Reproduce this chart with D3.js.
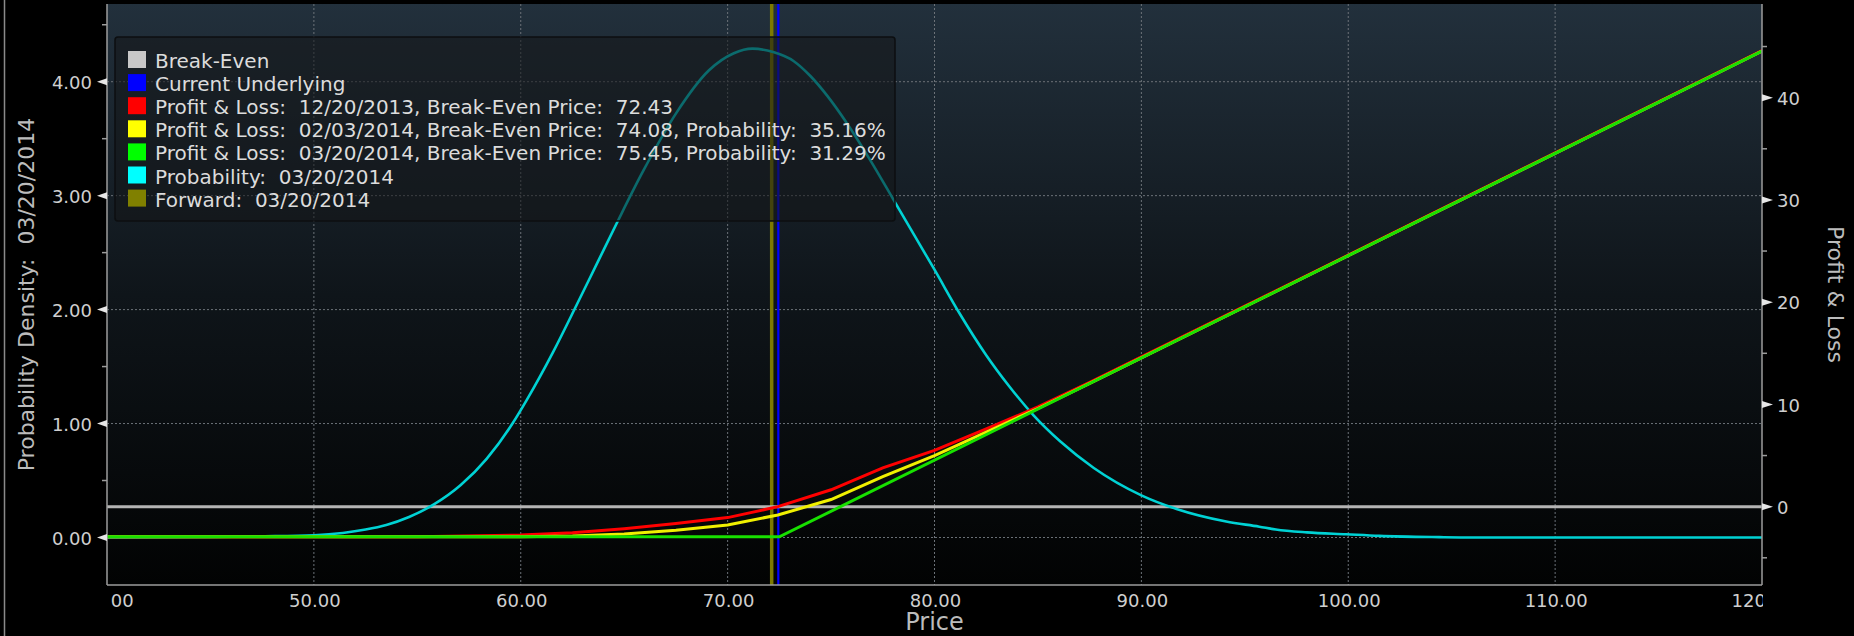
<!DOCTYPE html>
<html>
<head>
<meta charset="utf-8">
<script src="https://cdn.jsdelivr.net/npm/d3@7"></script>
<style>
  html, body { margin: 0; padding: 0; background: #000; }
  svg { display: block; font-family: "DejaVu Sans", sans-serif; }
  .grid line { stroke: #6c7278; stroke-width: 1; stroke-dasharray: 2,2; }
  .tick-label { fill: #cfcfcf; font-size: 18px; }
  .axis-title { fill: #bcbcbc; font-size: 22px; white-space: pre; }
  .legend text { fill: #dcdcdc; font-size: 20px; white-space: pre; }
</style>
</head>
<body>
<div id="chart"></div>
<script>
// ticks
var priceTicks = [40, 50, 60, 70, 80, 90, 100, 110, 120];
var densityTicks = [0, 1, 2, 3, 4];
var densityMinor = [0.5, 1.5, 2.5, 3.5, 4.5];
var pnlTicks = [0, 10, 20, 30, 40];
var pnlMinor = [-5, 5, 15, 25, 35, 45];

// probability density at expiry (03/20/2014)
var probPrice = [40, 45, 47.5, 50, 51.4, 52.5, 53.5, 54.6, 55.8, 57.1, 58.35, 59.6, 60.3, 61.6, 62.7, 63.7, 64.7, 65.9, 67.5, 69.1, 70.3, 71.2, 72.2, 73.2, 74.0, 74.8, 75.75, 76.9, 78.0, 79.0, 80.0, 81.2, 82.5, 83.6, 84.8, 86.1, 87.7, 90.0, 91.7, 94.1, 95.7, 96.5, 98.0, 99.9, 101.5, 104.4, 106, 120];
var probDensity = [0, 0.004, 0.01, 0.02, 0.04, 0.07, 0.11, 0.18, 0.29, 0.46, 0.69, 1.00, 1.21, 1.64, 2.04, 2.41, 2.78, 3.21, 3.72, 4.10, 4.25, 4.29, 4.26, 4.18, 4.05, 3.88, 3.64, 3.31, 2.97, 2.66, 2.35, 1.97, 1.60, 1.33, 1.07, 0.84, 0.61, 0.37, 0.25, 0.14, 0.095, 0.07, 0.045, 0.028, 0.014, 0.003, 0, 0];

// profit & loss
var pnlPrice = [40, 55, 60, 62.5, 65, 67.5, 70, 72.43, 75, 77.5, 80, 82.5, 85, 87.5, 90, 100, 110, 120];
var pnlDec2013 = [-2.95, -2.93, -2.78, -2.55, -2.15, -1.65, -1.07, 0.0, 1.65, 3.8, 5.5, 7.6, 9.75, 12.15, 14.65, 24.6, 34.6, 44.6];
var pnlFeb2014 = [-2.95, -2.95, -2.93, -2.87, -2.68, -2.3, -1.79, -0.81, 0.7, 2.95, 5.0, 7.3, 9.6, 12.05, 14.55, 24.55, 34.55, 44.55];
var expiryPrice = [40, 72.5, 120];
var pnlMar2014 = [-2.95, -2.95, 44.55];

var breakEven = 0;
var currentUnderlying = 72.45;
var forwardPrice = 72.13;

var legendLabels = [
    "Break-Even",
    "Current Underlying",
    "Profit & Loss:  12/20/2013, Break-Even Price:  72.43",
    "Profit & Loss:  02/03/2014, Break-Even Price:  74.08, Probability:  35.16%",
    "Profit & Loss:  03/20/2014, Break-Even Price:  75.45, Probability:  31.29%",
    "Probability:  03/20/2014",
    "Forward:  03/20/2014"
];
var legendColors = ["#c8c8c8", "#0000ff", "#ff0000", "#ffff00", "#00ff00", "#00ffff", "#808000"];

var W = 1854, H = 636;
var margin = { top: 4, right: 92, bottom: 51, left: 107 };
var width = W - margin.left - margin.right,
    height = H - margin.top - margin.bottom;

var svg = d3.select("#chart").append("svg")
    .attr("width", W)
    .attr("height", H);

var defs = svg.append("defs");
var grad = defs.append("linearGradient")
    .attr("id", "bg")
    .attr("x1", 0).attr("y1", 0).attr("x2", 0).attr("y2", 1);
grad.append("stop").attr("offset", "0%").attr("stop-color", "#22303c");
grad.append("stop").attr("offset", "50%").attr("stop-color", "#0f151a");
grad.append("stop").attr("offset", "100%").attr("stop-color", "#020303");

defs.append("clipPath").attr("id", "plot-clip")
    .append("rect").attr("width", width).attr("height", height);
defs.append("clipPath").attr("id", "xlabel-clip")
    .append("rect").attr("x", 4).attr("y", height).attr("width", width - 3).attr("height", margin.bottom);

// thin frame line at far left
svg.append("line")
    .attr("x1", 4.5).attr("x2", 4.5).attr("y1", 0).attr("y2", H)
    .attr("stroke", "#8a8a8a").attr("stroke-width", 1.5);

var g = svg.append("g")
    .attr("transform", "translate(" + margin.left + "," + margin.top + ")");

g.append("rect")
    .attr("width", width)
    .attr("height", height)
    .attr("fill", "url(#bg)");

// scales
var x = d3.scaleLinear().domain([40, 120]).range([0, width]);
var yL = d3.scaleLinear().domain([-0.417, 4.682]).range([height, 0]);
var yR = d3.scaleLinear().domain([-7.66, 49.16]).range([height, 0]);

// gridlines
var grid = g.append("g").attr("class", "grid");
grid.selectAll(".vx")
    .data(priceTicks.filter(function (d) { return d > 40 && d < 120; }))
    .enter().append("line")
    .attr("x1", function (d) { return x(d); })
    .attr("x2", function (d) { return x(d); })
    .attr("y1", 0).attr("y2", height);
grid.selectAll(".hy")
    .data(densityTicks)
    .enter().append("line")
    .attr("x1", 0).attr("x2", width)
    .attr("y1", function (d) { return yL(d); })
    .attr("y2", function (d) { return yL(d); });

var plot = g.append("g").attr("clip-path", "url(#plot-clip)");

// forward and current underlying
plot.append("line")
    .attr("x1", x(forwardPrice)).attr("x2", x(forwardPrice))
    .attr("y1", 0).attr("y2", height)
    .attr("stroke", "#7d7a00").attr("stroke-width", 3.5);
plot.append("line")
    .attr("x1", x(currentUnderlying)).attr("x2", x(currentUnderlying))
    .attr("y1", 0).attr("y2", height)
    .attr("stroke", "#0000ff").attr("stroke-width", 2.2);

// break-even
plot.append("line")
    .attr("x1", 0).attr("x2", width)
    .attr("y1", yR(breakEven)).attr("y2", yR(breakEven))
    .attr("stroke", "#b4b4b4").attr("stroke-width", 3);

// probability density
var probLine = d3.line()
    .x(function (d, i) { return x(probPrice[i]); })
    .y(function (d) { return yL(d); })
    .curve(d3.curveMonotoneX);
plot.append("path")
    .datum(probDensity)
    .attr("fill", "none")
    .attr("stroke", "#00d2d4")
    .attr("stroke-width", 2.6)
    .attr("d", probLine);

// profit & loss lines
function pnlLine(prices) {
    return d3.line()
        .x(function (d, i) { return x(prices[i]); })
        .y(function (d) { return yR(d); });
}
plot.append("path").datum(pnlDec2013)
    .attr("fill", "none").attr("stroke", "#ff0000").attr("stroke-width", 3)
    .attr("d", pnlLine(pnlPrice));
plot.append("path").datum(pnlFeb2014)
    .attr("fill", "none").attr("stroke", "#f0f000").attr("stroke-width", 3)
    .attr("d", pnlLine(pnlPrice));
plot.append("path").datum(pnlMar2014)
    .attr("fill", "none").attr("stroke", "#18e000").attr("stroke-width", 3)
    .attr("d", pnlLine(expiryPrice));

// axis lines
var axisColor = "#9c9c9c";
g.append("line").attr("x1", 0).attr("x2", 0).attr("y1", 0).attr("y2", height)
    .attr("stroke", axisColor).attr("stroke-width", 1.5);
g.append("line").attr("x1", width).attr("x2", width).attr("y1", 0).attr("y2", height)
    .attr("stroke", axisColor).attr("stroke-width", 1.5);
g.append("line").attr("x1", 0).attr("x2", width).attr("y1", height).attr("y2", height)
    .attr("stroke", axisColor).attr("stroke-width", 1.5);

// left axis ticks
g.selectAll(".lt").data(densityTicks).enter().append("path")
    .attr("fill", "#e6e6e6")
    .attr("d", function (d) { var y = yL(d); return "M0," + (y - 3.5) + "L-10," + y + "L0," + (y + 3.5) + "Z"; });
g.selectAll(".lm").data(densityMinor).enter().append("line")
    .attr("x1", -5).attr("x2", 0)
    .attr("y1", function (d) { return yL(d); })
    .attr("y2", function (d) { return yL(d); })
    .attr("stroke", axisColor).attr("stroke-width", 1.5);
g.selectAll(".ll").data(densityTicks).enter().append("text")
    .attr("class", "tick-label")
    .attr("x", -15)
    .attr("y", function (d) { return yL(d); })
    .attr("dy", "0.4em")
    .attr("text-anchor", "end")
    .text(function (d) { return d.toFixed(2); });

// right axis ticks
g.selectAll(".rt").data(pnlTicks).enter().append("path")
    .attr("fill", "#e6e6e6")
    .attr("d", function (d) { var y = yR(d); return "M" + width + "," + (y - 3.5) + "L" + (width + 11) + "," + y + "L" + width + "," + (y + 3.5) + "Z"; });
g.selectAll(".rm").data(pnlMinor).enter().append("line")
    .attr("x1", width).attr("x2", width + 5)
    .attr("y1", function (d) { return yR(d); })
    .attr("y2", function (d) { return yR(d); })
    .attr("stroke", axisColor).attr("stroke-width", 1.5);
g.selectAll(".rl").data(pnlTicks).enter().append("text")
    .attr("class", "tick-label")
    .attr("x", width + 15)
    .attr("y", function (d) { return yR(d); })
    .attr("dy", "0.4em")
    .text(function (d) { return d; });

// bottom axis labels (clipped to plot width)
g.append("g").attr("clip-path", "url(#xlabel-clip)")
    .selectAll("text").data(priceTicks).enter().append("text")
    .attr("class", "tick-label")
    .attr("x", function (d) { return x(d) + 1; })
    .attr("y", height + 22)
    .attr("text-anchor", "middle")
    .text(function (d) { return d.toFixed(2); });

// axis titles
svg.append("text")
    .attr("class", "axis-title")
    .attr("transform", "translate(34," + (margin.top + height / 2) + ") rotate(-90)")
    .attr("text-anchor", "middle")
    .text("Probability Density:  03/20/2014");
svg.append("text")
    .attr("class", "axis-title")
    .attr("transform", "translate(1828," + (margin.top + height / 2) + ") rotate(90)")
    .attr("text-anchor", "middle")
    .text("Profit & Loss");
svg.append("text")
    .attr("class", "axis-title")
    .style("font-size", "24px")
    .attr("x", margin.left + width / 2)
    .attr("y", H - 6)
    .attr("text-anchor", "middle")
    .text("Price");

// legend
var legend = g.append("g").attr("class", "legend")
    .attr("transform", "translate(8,33)");
legend.append("rect")
    .attr("width", 780)
    .attr("height", 184)
    .attr("rx", 3)
    .attr("fill", "#141618")
    .attr("fill-opacity", 0.55)
    .attr("stroke", "#0c0e10")
    .attr("stroke-width", 1.5);
var rows = legend.selectAll(".row").data(legendLabels).enter().append("g")
    .attr("transform", function (d, i) { return "translate(13," + (14 + i * 23.1) + ")"; });
rows.append("rect")
    .attr("width", 18).attr("height", 17)
    .attr("fill", function (d, i) { return legendColors[i]; });
rows.append("text")
    .attr("x", 27)
    .attr("y", 17)
    .text(function (d) { return d; });
</script>
</body>
</html>
